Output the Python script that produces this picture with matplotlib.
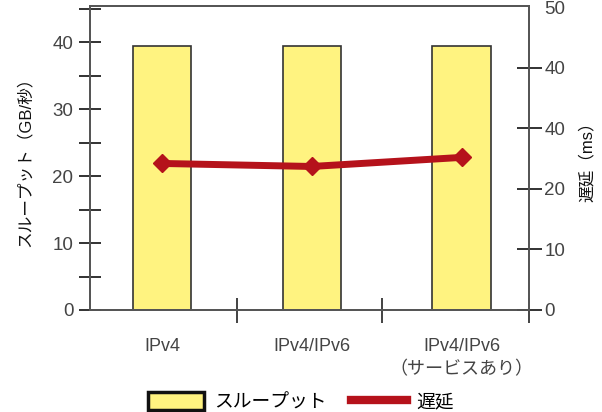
import matplotlib.pyplot as plt
from matplotlib.patches import Patch
from matplotlib.lines import Line2D
from matplotlib.ticker import MultipleLocator

plt.rcParams['font.family'] = ['Liberation Sans', 'Noto Sans CJK JP', 'DejaVu Sans']

# data
categories = ['IPv4', 'IPv4/IPv6', 'IPv4/IPv6\n（サービスあり）']
throughput = [39.5, 39.5, 39.5]      # GB/s, left axis
latency = [24.2, 23.7, 25.2]         # ms, right axis
right_ticks = [0, 10, 20, 30, 40, 50]
right_labels = ['0', '10', '20', '40', '40', '50']

yellow = '#fff380'
red = '#b5121b'
ink = '#444444'

fig = plt.figure(figsize=(6.02, 4.12), dpi=100)
ax = fig.add_axes([0.1495, 0.2476, 0.7292, 0.7378])
x = range(len(categories))

# bars (throughput)
ax.bar(x, throughput, width=0.39, color=yellow, edgecolor='#333333', linewidth=1.2, zorder=2)
ax.set_xlim(-0.48, 2.45)
ax.set_ylim(0, 45.4)
ax.set_yticks([0, 10, 20, 30, 40])
ax.yaxis.set_minor_locator(MultipleLocator(5))
ax.tick_params(axis='y', which='both', direction='inout', length=16, width=1.3,
               color='#222222', labelsize=13.5, labelcolor=ink, pad=4)
ax.set_ylabel('スループット（GB/秒）', fontsize=12, color='#111111', labelpad=14)

# category ticks sit between the groups
ax.set_xticks([0.5, 1.47, 2.45])
ax.set_xticklabels([])
ax.tick_params(axis='x', direction='inout', length=18, width=1.2, color='#222222')
ax.set_xticks(list(x), minor=True)
ax.set_xticklabels(categories, minor=True, fontsize=13, color=ink, linespacing=1.5)
ax.tick_params(axis='x', which='minor', length=0, pad=20)

for s in ax.spines.values():
    s.set_color('#555555')
    s.set_linewidth(1.3)

# line (latency)
ax2 = ax.twinx()
ax2.plot(x, latency, color=red, linewidth=5, marker='D', markersize=9, zorder=3)
ax2.set_ylim(0, 50.2)
ax2.set_yticks(right_ticks)
ax2.set_yticklabels(right_labels)
ax2.tick_params(axis='y', direction='inout', length=18, width=1.3,
                color='#222222', labelsize=13.5, labelcolor=ink, pad=2)
ax2.yaxis.get_major_ticks()[-1].tick2line.set_visible(False)
ax2.set_ylabel('遅延（ms）', fontsize=12, color='#111111', labelpad=10)
for s in ax2.spines.values():
    s.set_color('#555555')
    s.set_linewidth(1.3)

# legend
handles = [Patch(facecolor=yellow, edgecolor='#111111', linewidth=2.5),
           Line2D([0], [0], color=red, linewidth=6)]
fig.legend(handles, ['スループット', '遅延'], loc='lower center', ncol=2, frameon=False,
           fontsize=13.5, handlelength=3.0, handleheight=1.1, columnspacing=1.3,
           handletextpad=0.5, bbox_to_anchor=(0.5, -0.04))

fig.savefig('out.png', dpi=100)
